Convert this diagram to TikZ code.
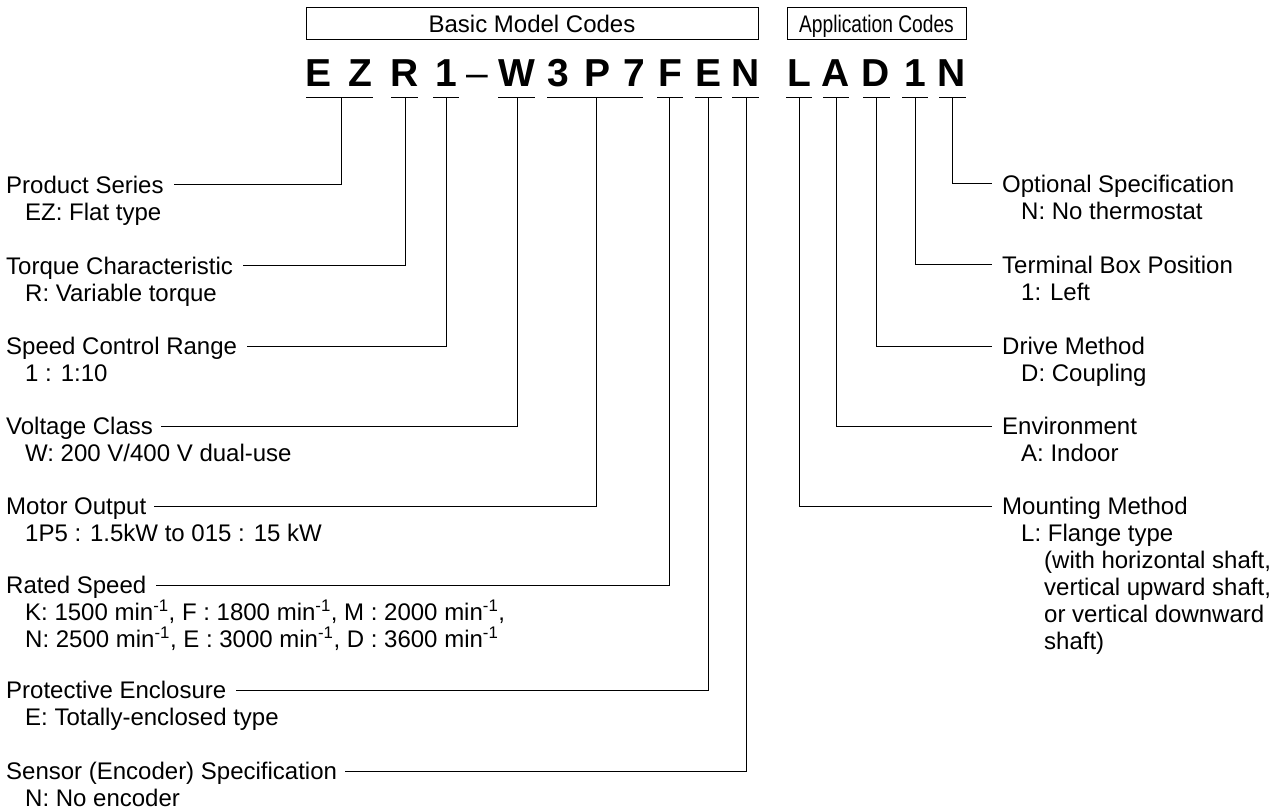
\documentclass[tikz,border=0pt]{standalone}
\usepackage{fontspec}
\setmainfont{Liberation Sans}
\tikzset{
  lab/.style={font=\fontsize{24}{27}\selectfont, inner sep=0pt, anchor=base west, text height=17.2pt, text depth=0pt},
  desc/.style={font=\fontsize{24}{27}\selectfont, inner sep=0pt, anchor=base west, align=left},
  code/.style={font=\fontsize{39}{39}\selectfont\bfseries, inner sep=0pt, anchor=base},
  codedash/.style={font=\fontsize{39}{39}\selectfont, inner sep=0pt, anchor=base},
  hdr/.style={draw, line width=1pt, minimum height=32pt, inner sep=0pt, text height=17.2pt, text depth=0pt, font=\fontsize{24}{27}\selectfont},
  wire/.style={line width=1pt},
}
\begin{document}
\begin{tikzpicture}[x=1pt,y=-1pt]
\useasboundingbox (0,0) rectangle (1285,810);

% header boxes
\node[hdr, minimum width=452pt] (hb) at (532,24) {Basic Model Codes};
\node[hdr, minimum width=179pt] (ha) at (876.5,24) {\scalebox{0.8}[1]{Application Codes}};

% code letters
\node[code] (cE)  at (319,87) {E};
\node[code] (cZ)  at (360,87) {Z};
\node[code] (cR)  at (405,87) {R};
\node[code] (c1)  at (446,87) {1};
\node[codedash] (cd) at (477,87) {–};
\node[code] (cW)  at (517,87) {W};
\node[code] (c3)  at (558,87) {3};
\node[code] (cP)  at (597,87) {P};
\node[code] (c7)  at (634,87) {7};
\node[code] (cF)  at (670,87) {F};
\node[code] (cE2) at (708,87) {E};
\node[code] (cN)  at (746,87) {N};
\node[code] (cL)  at (799,87) {L};
\node[code] (cA)  at (836,87) {A};
\node[code] (cD)  at (876,87) {D};
\node[code] (c1b) at (915,87) {1};
\node[code] (cN2) at (952,87) {N};

% bar tap points
\coordinate (kEZ) at (341,98);
\coordinate (kR)  at (405,98);
\coordinate (k1)  at (446,98);
\coordinate (kW)  at (517,98);
\coordinate (kP)  at (596,98);
\coordinate (kF)  at (669,98);
\coordinate (kE)  at (708,98);
\coordinate (kN)  at (746,98);
\coordinate (kL)  at (799,98);
\coordinate (kA)  at (836,98);
\coordinate (kD)  at (876,98);
\coordinate (k1b) at (915,98);
\coordinate (kN2) at (952,98);

% bars under the codes
\draw[wire] ([xshift=-35pt]kEZ) -- ([xshift=32pt]kEZ);
\draw[wire] ([xshift=-14pt]kR) -- ([xshift=13pt]kR);
\draw[wire] ([xshift=-13pt]k1) -- ([xshift=13pt]k1);
\draw[wire] ([xshift=-19pt]kW) -- ([xshift=18pt]kW);
\draw[wire] ([xshift=-49pt]kP) -- ([xshift=47pt]kP);
\draw[wire] ([xshift=-12pt]kF) -- ([xshift=14pt]kF);
\draw[wire] ([xshift=-13pt]kE) -- ([xshift=14pt]kE);
\draw[wire] ([xshift=-14pt]kN) -- ([xshift=13pt]kN);
\draw[wire] ([xshift=-13pt]kL) -- ([xshift=13pt]kL);
\draw[wire] ([xshift=-13pt]kA) -- ([xshift=13pt]kA);
\draw[wire] ([xshift=-13pt]kD) -- ([xshift=14pt]kD);
\draw[wire] ([xshift=-13pt]k1b) -- ([xshift=13pt]k1b);
\draw[wire] ([xshift=-13pt]kN2) -- ([xshift=14pt]kN2);

% left labels
\node[lab] (lPS) at (6,193.6) {Product Series};
\node[desc] (dPS) at (25,220.6) {EZ: Flat type};
\node[lab] (lTC) at (6,274.6) {Torque Characteristic};
\node[desc] (dTC) at (25,301.6) {R: Variable torque};
\node[lab] (lSC) at (6,354.6) {Speed Control Range};
\node[desc] (dSC) at (25,381.6) {1 : 1:10};
\node[lab] (lVC) at (6,434.6) {Voltage Class};
\node[desc] (dVC) at (25,461.6) {W: 200 V/400 V dual-use};
\node[lab] (lMO) at (6,514.6) {Motor Output};
\node[desc] (dMO) at (25,541.6) {1P5 : 1.5kW to 015 : 15 kW};
\node[lab] (lRS) at (6,593.6) {Rated Speed};
\node[desc] (dRS) at (25,647.6) {K: 1500 min\textsuperscript{-1}, F : 1800 min\textsuperscript{-1}, M : 2000 min\textsuperscript{-1},\\N: 2500 min\textsuperscript{-1}, E : 3000 min\textsuperscript{-1}, D : 3600 min\textsuperscript{-1}};
\node[lab] (lPE) at (6,698.6) {Protective Enclosure};
\node[desc] (dPE) at (25,725.6) {E: Totally-enclosed type};
\node[lab] (lSE) at (6,779.6) {Sensor (Encoder) Specification};
\node[desc] (dSE) at (25,806.6) {N: No encoder};

% right labels
\node[lab] (rOS) at (1002,192.6) {Optional Specification};
\node[desc] (eOS) at (1021,219.6) {N: No thermostat};
\node[lab] (rTB) at (1002,273.6) {Terminal Box Position};
\node[desc] (eTB) at (1021,300.6) {1: Left};
\node[lab] (rDM) at (1002,354.6) {Drive Method};
\node[desc] (eDM) at (1021,381.6) {D: Coupling};
\node[lab] (rEN) at (1002,434.6) {Environment};
\node[desc] (eEN) at (1021,461.6) {A: Indoor};
\node[lab] (rMM) at (1002,514.6) {Mounting Method};
\node[desc] (eMM) at (1021,649.6) {L: Flange type\\\hspace*{23pt}(with horizontal shaft,\\\hspace*{23pt}vertical upward shaft,\\\hspace*{23pt}or vertical downward\\\hspace*{23pt}shaft)};

% connectors, left side
\draw[wire] (kEZ) |- ([xshift=10pt]lPS.east);
\draw[wire] (kR)  |- ([xshift=10pt]lTC.east);
\draw[wire] (k1)  |- ([xshift=10pt]lSC.east);
\draw[wire] (kW)  |- ([xshift=8pt]lVC.east);
\draw[wire] (kP)  |- ([xshift=8pt]lMO.east);
\draw[wire] (kF)  |- ([xshift=9pt]lRS.east);
\draw[wire] (kE)  |- ([xshift=9pt]lPE.east);
\draw[wire] (kN)  |- ([xshift=8pt]lSE.east);

% connectors, right side
\draw[wire] (kN2) |- ([xshift=-10pt]rOS.west);
\draw[wire] (k1b) |- ([xshift=-10pt]rTB.west);
\draw[wire] (kD)  |- ([xshift=-10pt]rDM.west);
\draw[wire] (kA)  |- ([xshift=-10pt]rEN.west);
\draw[wire] (kL)  |- ([xshift=-10pt]rMM.west);
\end{tikzpicture}
\end{document}
